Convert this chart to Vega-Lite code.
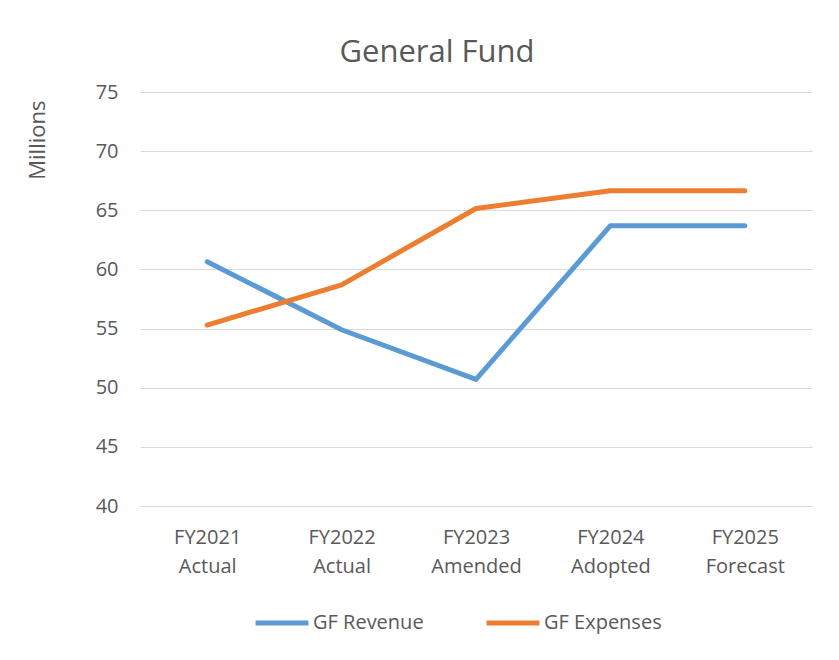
{
  "$schema": "https://vega.github.io/schema/vega-lite/v6.json",
  "width": 672,
  "height": 414,
  "autosize": {"type": "none"},
  "padding": {"left": 140, "top": 92, "right": 27, "bottom": 154},
  "background": "white",
  "title": {
    "text": "General Fund",
    "font": "Open Sans",
    "fontSize": 31,
    "fontWeight": "normal",
    "color": "#595959",
    "anchor": "middle",
    "offset": 13,
    "dx": -39
  },
  "data": {
    "values": [
      {"year": "FY2021 Actual", "series": "GF Revenue", "value": 60.65},
      {"year": "FY2022 Actual", "series": "GF Revenue", "value": 54.9},
      {"year": "FY2023 Amended", "series": "GF Revenue", "value": 50.7},
      {"year": "FY2024 Adopted", "series": "GF Revenue", "value": 63.7},
      {"year": "FY2025 Forecast", "series": "GF Revenue", "value": 63.7},
      {"year": "FY2021 Actual", "series": "GF Expenses", "value": 55.3},
      {"year": "FY2022 Actual", "series": "GF Expenses", "value": 58.7},
      {"year": "FY2023 Amended", "series": "GF Expenses", "value": 65.15},
      {"year": "FY2024 Adopted", "series": "GF Expenses", "value": 66.65},
      {"year": "FY2025 Forecast", "series": "GF Expenses", "value": 66.65}
    ]
  },
  "mark": {"type": "line", "strokeWidth": 5, "strokeCap": "round", "strokeJoin": "round"},
  "encoding": {
    "x": {
      "field": "year",
      "type": "nominal",
      "sort": null,
      "scale": {"type": "point", "padding": 0.5},
      "axis": {
        "title": null,
        "labelExpr": "split(datum.label, ' ')",
        "labelAngle": 0,
        "labelFont": "Open Sans",
        "labelFontSize": 20,
        "labelColor": "#595959",
        "labelPadding": 21,
        "labelLineHeight": 29,
        "domain": false,
        "ticks": false,
        "grid": false
      }
    },
    "y": {
      "field": "value",
      "type": "quantitative",
      "scale": {"domain": [40, 75], "nice": false, "zero": false},
      "axis": {
        "values": [40, 45, 50, 55, 60, 65, 70, 75],
        "title": "Millions",
        "titleFont": "Open Sans",
        "titleFontSize": 22,
        "titleFontWeight": "normal",
        "titleColor": "#595959",
        "titleAngle": -90,
        "titleAlign": "right",
        "titleBaseline": "middle",
        "titleX": -103,
        "titleY": 8,
        "labelFont": "Open Sans",
        "labelFontSize": 20,
        "labelColor": "#595959",
        "labelPadding": 22,
        "domain": false,
        "ticks": false,
        "grid": true,
        "gridColor": "#d9d9d9",
        "gridWidth": 1
      }
    },
    "color": {
      "field": "series",
      "type": "nominal",
      "scale": {"domain": ["GF Revenue", "GF Expenses"], "range": ["#5b9bd5", "#ed7d31"]},
      "legend": {
        "title": null,
        "orient": "none",
        "legendX": 113,
        "legendY": 502,
        "direction": "horizontal",
        "symbolType": "stroke",
        "symbolSize": 2800,
        "symbolStrokeWidth": 5,
        "labelFont": "Open Sans",
        "labelFontSize": 20,
        "labelColor": "#595959",
        "labelOffset": 2,
        "columnPadding": 52
      }
    }
  },
  "config": {"view": {"stroke": null}}
}
